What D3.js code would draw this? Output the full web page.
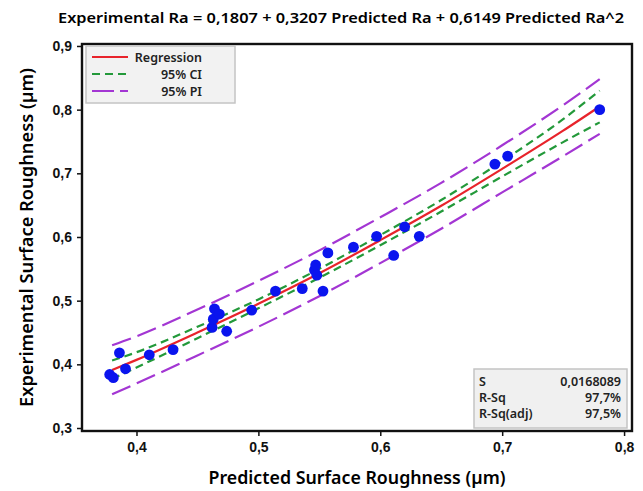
<!DOCTYPE html>
<html>
<head>
<meta charset="utf-8">
<script src="https://cdn.jsdelivr.net/npm/d3@7"></script>
<style>
  body { margin: 0; background: #fff; }
  svg { display: block; font-family: "Noto Sans", "Open Sans", sans-serif; }
  .tick-label { font-size: 14px; font-weight: 600; fill: #111; }
</style>
</head>
<body>
<div id="chart"></div>
<script>
// observed points: predicted vs experimental roughness
const predicted = [0.378, 0.381, 0.386, 0.391, 0.4105, 0.430, 0.462, 0.463, 0.464, 0.468, 0.474,
    0.4945, 0.514, 0.536, 0.546, 0.547, 0.548, 0.553, 0.557, 0.578, 0.597, 0.611, 0.620, 0.632,
    0.694, 0.7045, 0.780];
const experimental = [0.384, 0.379, 0.418, 0.393, 0.415, 0.423, 0.458, 0.471, 0.487, 0.479, 0.452,
    0.485, 0.515, 0.519, 0.548, 0.556, 0.540, 0.515, 0.575, 0.584, 0.601, 0.571, 0.616, 0.601,
    0.7145, 0.727, 0.800];

// fitted line and bands
const bandX = [0.38, 0.40, 0.45, 0.50, 0.55, 0.60, 0.65, 0.70, 0.75, 0.78];
const fitY  = [0.391, 0.407, 0.450, 0.495, 0.543, 0.595, 0.649, 0.707, 0.767, 0.805];
const ciLow  = [0.377, 0.395, 0.441, 0.488, 0.536, 0.587, 0.640, 0.695, 0.749, 0.780];
const ciHigh = [0.406, 0.419, 0.459, 0.502, 0.550, 0.603, 0.658, 0.719, 0.785, 0.830];
const piLow  = [0.353, 0.370, 0.414, 0.459, 0.507, 0.559, 0.613, 0.670, 0.727, 0.762];
const piHigh = [0.430, 0.444, 0.486, 0.531, 0.579, 0.631, 0.685, 0.744, 0.807, 0.848];

const xTicks = [0.4, 0.5, 0.6, 0.7, 0.8];
const yTicks = [0.3, 0.4, 0.5, 0.6, 0.7, 0.8, 0.9];
const legendLabels = ['Regression', '95% CI', '95% PI'];
const statNames = ['S', 'R-Sq', 'R-Sq(adj)'];
const statValues = ['0,0168089', '97,7%', '97,5%'];

const width = 643, height = 491;
const plotLeft = 82, plotRight = 632, plotTop = 44, plotBottom = 431;

const red = '#e8232b', green = '#23993a', purple = '#a336d3', blue = '#0a14ee';
const fmt = d => d3.format('.1f')(d).replace('.', ',');

const svg = d3.select('#chart').append('svg')
    .attr('width', width)
    .attr('height', height);

const x = d3.scaleLinear().domain([0.3553, 0.8065]).range([plotLeft, plotRight]);
const y = d3.scaleLinear().domain([0.2953, 0.9031]).range([plotBottom, plotTop]);

// title
svg.append('text')
    .attr('x', 341).attr('y', 23)
    .attr('text-anchor', 'middle')
    .attr('textLength', 566)
    .attr('lengthAdjust', 'spacingAndGlyphs')
    .style('font-size', '15px').style('font-weight', 600)
    .text('Experimental Ra = 0,1807 + 0,3207 Predicted Ra + 0,6149 Predicted Ra^2');

// curves
const line = d3.line()
    .x((d, i) => x(bandX[i]))
    .y(d => y(d))
    .curve(d3.curveMonotoneX);

const curves = [
    {values: piLow, color: purple, dash: '20,7'},
    {values: piHigh, color: purple, dash: '20,7'},
    {values: ciLow, color: green, dash: '8,5'},
    {values: ciHigh, color: green, dash: '8,5'},
    {values: fitY, color: red, dash: null}
];

svg.selectAll('path.curve')
    .data(curves)
    .enter().append('path')
    .attr('class', 'curve')
    .attr('d', d => line(d.values))
    .attr('fill', 'none')
    .attr('stroke', d => d.color)
    .attr('stroke-width', 2.2)
    .attr('stroke-dasharray', d => d.dash);

// points
svg.selectAll('circle.pt')
    .data(predicted)
    .enter().append('circle')
    .attr('class', 'pt')
    .attr('cx', d => x(d))
    .attr('cy', (d, i) => y(experimental[i]))
    .attr('r', 5.4)
    .attr('fill', blue);

// frame
svg.append('rect')
    .attr('x', plotLeft).attr('y', plotTop)
    .attr('width', plotRight - plotLeft).attr('height', plotBottom - plotTop)
    .attr('fill', 'none')
    .attr('stroke', '#111')
    .attr('stroke-width', 2.4);

// axes
const xAxis = svg.append('g')
    .attr('transform', 'translate(0,' + plotBottom + ')')
    .call(d3.axisBottom(x).tickValues(xTicks).tickFormat(fmt).tickSize(5).tickPadding(6));
const yAxis = svg.append('g')
    .attr('transform', 'translate(' + plotLeft + ',0)')
    .call(d3.axisLeft(y).tickValues(yTicks).tickFormat(fmt).tickSize(5).tickPadding(5));

[xAxis, yAxis].forEach(function (g) {
    g.select('.domain').remove();
    g.selectAll('.tick line').attr('stroke', '#111').attr('stroke-width', 1.5);
    g.selectAll('.tick text').attr('class', 'tick-label').attr('font-family', null).attr('font-size', null);
});

// axis titles
svg.append('text')
    .attr('x', (plotLeft + plotRight) / 2).attr('y', 484)
    .attr('text-anchor', 'middle')
    .attr('textLength', 297)
    .attr('lengthAdjust', 'spacingAndGlyphs')
    .style('font-size', '17px').style('font-weight', 600)
    .text('Predicted Surface Roughness (µm)');

svg.append('text')
    .attr('transform', 'translate(33,' + (plotTop + plotBottom) / 2 + ') rotate(-90)')
    .attr('text-anchor', 'middle')
    .attr('textLength', 339)
    .attr('lengthAdjust', 'spacingAndGlyphs')
    .style('font-size', '17px').style('font-weight', 600)
    .text('Experimental Surface Roughness (µm)');

// legend
const legend = svg.append('g');
legend.append('rect')
    .attr('x', 86).attr('y', 46).attr('width', 149).attr('height', 57)
    .attr('fill', '#f2f2f2').attr('stroke', '#c4c4c4').attr('stroke-width', 1.5);

const legendStyles = [
    {color: red, dash: null},
    {color: green, dash: '8,5'},
    {color: purple, dash: '22,6'}
];
legendLabels.forEach(function (label, i) {
    const ly = 57 + i * 17;
    legend.append('line')
        .attr('x1', 92).attr('x2', 128).attr('y1', ly).attr('y2', ly)
        .attr('stroke', legendStyles[i].color)
        .attr('stroke-width', 2.2)
        .attr('stroke-dasharray', legendStyles[i].dash);
    legend.append('text')
        .attr('x', 202).attr('y', ly + 4.5)
        .attr('text-anchor', 'end')
        .style('font-size', '12.5px').style('font-weight', 600).style('fill', '#222')
        .text(label);
});

// stats box
const stats = svg.append('g');
stats.append('rect')
    .attr('x', 474).attr('y', 369).attr('width', 153).attr('height', 59)
    .attr('fill', '#f0f0f0').attr('stroke', '#c4c4c4').attr('stroke-width', 1.5);
statNames.forEach(function (name, i) {
    const sy = 386 + i * 16;
    stats.append('text')
        .attr('x', 479).attr('y', sy)
        .style('font-size', '12.5px').style('font-weight', 600).style('fill', '#222')
        .text(name);
    stats.append('text')
        .attr('x', 621).attr('y', sy)
        .attr('text-anchor', 'end')
        .style('font-size', '12.5px').style('font-weight', 600).style('fill', '#222')
        .text(statValues[i]);
});
</script>
</body>
</html>
